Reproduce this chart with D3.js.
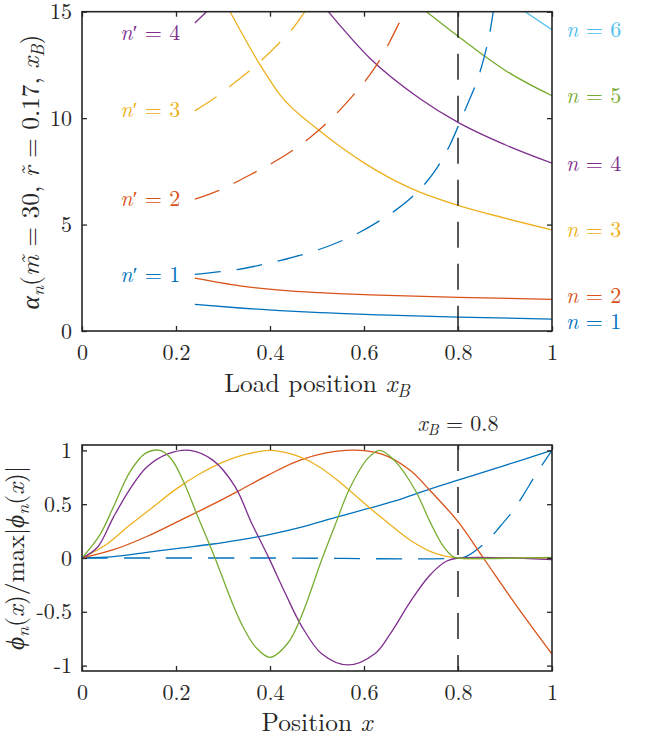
<!DOCTYPE html>
<html><head><meta charset="utf-8">
<script src="https://cdn.jsdelivr.net/npm/d3@7"></script>
<style>body{margin:0;background:#fff}</style>
</head><body>
<svg id="chart" width="651" height="738"></svg>
<script>
// ---------- data ----------
const xTicks = [0, 0.2, 0.4, 0.6, 0.8, 1];
const xTickLabels = ["0", "0.2", "0.4", "0.6", "0.8", "1"];
const alphaTicks = [0, 5, 10, 15];
const alphaTickLabels = ["0", "5", "10", "15"];
const phiTicks = [-1, -0.5, 0, 0.5, 1];
const phiTickLabels = ["-1", "-0.5", "0", "0.5", "1"];
const loadPosition = 0.8;

// top: alpha_n vs load position (solid, n = 1..6)
const alphaN1 = [[0.24,1.25],[0.336,1.08],[0.421,0.96],[0.506,0.86],[0.634,0.76],[0.8,0.65],[1,0.56]];
const alphaN2 = [[0.24,2.48],[0.336,2.12],[0.421,1.92],[0.506,1.8],[0.613,1.7],[0.8,1.58],[1,1.49]];
const alphaN3 = [[0.315,15],[0.379,12.5],[0.421,11.1],[0.503,9.45],[0.6,7.9],[0.7,6.7],[0.8,5.9],[0.9,5.3],[1,4.75]];
const alphaN4 = [[0.524,15],[0.613,12.8],[0.72,10.9],[0.8,9.8],[0.9,8.75],[1,7.88]];
const alphaN5 = [[0.733,15],[0.8,13.85],[0.854,12.95],[0.9,12.25],[1,11.05]];
const alphaN6 = [[0.943,15],[1,14.15]];
// top: dashed, n' = 1..4
const alphaP1 = [[0.24,2.66],[0.294,2.79],[0.333,2.9],[0.386,3.13],[0.421,3.31],[0.474,3.62],[0.506,3.84],[0.56,4.31],[0.591,4.64],[0.634,5.19],[0.668,5.69],[0.709,6.44],[0.733,7.0],[0.755,7.65],[0.783,8.75],[0.804,9.8],[0.822,10.75],[0.84,11.72],[0.857,12.98],[0.87,14.3],[0.875,15]];
const alphaP2 = [[0.24,6.19],[0.294,6.63],[0.357,7.33],[0.404,7.88],[0.453,8.56],[0.482,9.03],[0.52,9.75],[0.549,10.39],[0.584,11.25],[0.613,12.05],[0.638,12.9],[0.655,13.6],[0.68,14.7],[0.687,15]];
const alphaP3 = [[0.24,10.34],[0.286,11.0],[0.315,11.5],[0.357,12.24],[0.386,12.8],[0.425,13.65],[0.448,14.2],[0.474,15]];
const alphaP4 = [[0.24,14.47],[0.265,15]];

// bottom: normalised mode shapes at x_B = 0.8
const phiN1 = [[0,0],[0.067,0.012],[0.138,0.052],[0.209,0.092],[0.279,0.13],[0.336,0.169],[0.396,0.215],[0.467,0.286],[0.538,0.375],[0.609,0.46],[0.666,0.53],[0.726,0.62],[0.8,0.723],[0.868,0.817],[0.939,0.915],[1,1]];
const phiP1 = [[0,0],[0.4,0],[0.8,0],[0.818,0.015],[0.861,0.154],[0.889,0.29],[0.918,0.446],[0.939,0.585],[0.967,0.785],[1,1]];
const phiN2 = [[0,0],[0.067,0.077],[0.138,0.2],[0.209,0.35],[0.279,0.5],[0.336,0.63],[0.396,0.77],[0.467,0.915],[0.56,1],[0.638,0.965],[0.698,0.815],[0.74,0.63],[0.8,0.338],[0.854,0],[0.925,-0.447],[1,-0.893]];
const phiN3 = [[0,0],[0.05,0.12],[0.1,0.3],[0.15,0.47],[0.2,0.64],[0.25,0.78],[0.3,0.89],[0.35,0.965],[0.4,1],[0.45,0.96],[0.5,0.86],[0.55,0.7],[0.6,0.51],[0.65,0.33],[0.7,0.16],[0.75,0.045],[0.8,0],[0.9,0],[1,0]];
const phiN4 = [[0,0],[0.033,0.1],[0.067,0.38],[0.102,0.64],[0.138,0.846],[0.184,0.97],[0.23,1],[0.279,0.907],[0.326,0.661],[0.361,0.323],[0.396,0.015],[0.432,-0.323],[0.467,-0.63],[0.51,-0.89],[0.566,-0.994],[0.623,-0.89],[0.655,-0.71],[0.698,-0.41],[0.74,-0.16],[0.776,-0.028],[0.8,0],[1,-0.016]];
const phiN5 = [[0,0],[0.038,0.215],[0.067,0.476],[0.102,0.8],[0.134,0.97],[0.166,1],[0.19,0.92],[0.215,0.72],[0.245,0.4],[0.283,0],[0.32,-0.42],[0.345,-0.66],[0.37,-0.83],[0.4,-0.923],[0.439,-0.785],[0.467,-0.54],[0.51,-0.016],[0.538,0.3],[0.57,0.65],[0.609,0.93],[0.634,1],[0.666,0.9],[0.709,0.63],[0.74,0.34],[0.769,0.107],[0.79,0.01],[0.8,0],[1,0.005]];

// label texts and anchor values
const rightLabelNums = ["1","2","3","4","5","6"];
const rightLabelValues = [0.45, 1.66, 4.75, 7.88, 11.05, 14.15];
const leftLabelNums = ["1","2","3","4"];
const leftLabelValues = [2.66, 6.19, 10.39, 14.0];

const colors = ["#0072BD","#D95319","#EDB120","#7E2F8E","#77AC30","#4DBEEE"];

// ---------- drawing ----------
const FONT = '"Latin Modern Roman", "Liberation Serif", serif';
const svg = d3.select("#chart");
svg.append("rect").attr("width",651).attr("height",738).attr("fill","#fff");

const L = 82, R = 552;
const x = d3.scaleLinear().domain([0,1]).range([L,R]);
const yTop = d3.scaleLinear().domain([0,15]).range([331,11.7]);
const yBot = d3.scaleLinear().domain([-1.05,1.05]).range([671,445]);
const FS = 22, LFS = 25.5;
const DASH = "26,16";

function mathText(sel, parts, size, color){
  sel.style("font-family",FONT).style("font-size",size+"px").style("fill",color||"#262626");
  parts.forEach(p=>{
    const t = sel.append("tspan").text(p.t);
    if(p.i) t.style("font-style","italic");
    if(p.sub){ t.style("font-size",(size*0.7)+"px").attr("baseline-shift", -size*0.2); }
  });
  return sel;
}

function drawAxes(g, y, yt, ytl){
  const top = y.range()[1], bot = y.range()[0];
  g.append("g").attr("transform",`translate(0,${bot})`)
    .call(d3.axisBottom(x).tickValues(xTicks).tickFormat((d,i)=>xTickLabels[i]).tickSizeInner(-5).tickSizeOuter(0).tickPadding(13.5));
  g.append("g").attr("transform",`translate(0,${top})`)
    .call(d3.axisTop(x).tickValues(xTicks).tickFormat("").tickSizeInner(-5).tickSizeOuter(0));
  g.append("g").attr("transform",`translate(${L},0)`)
    .call(d3.axisLeft(y).tickValues(yt).tickFormat((d,i)=>ytl[i]).tickSizeInner(-5).tickSizeOuter(0).tickPadding(10));
  g.append("g").attr("transform",`translate(${R},0)`)
    .call(d3.axisRight(y).tickValues(yt).tickFormat("").tickSizeInner(-5).tickSizeOuter(0));
  g.selectAll(".domain").remove();
  g.selectAll(".tick line").attr("stroke","#262626").attr("stroke-width",1.3);
  g.selectAll(".tick text").style("font-family",FONT).style("font-size",FS+"px").style("fill","#262626");
  g.append("rect").attr("x",L).attr("y",top).attr("width",R-L).attr("height",bot-top)
    .attr("fill","none").attr("stroke","#262626").attr("stroke-width",1.6);
}

// ---- top panel ----
const gTop = svg.append("g");
svg.append("clipPath").attr("id","clipTop").append("rect").attr("x",L).attr("y",11.7).attr("width",R-L).attr("height",331-11.7);
const lineTop = d3.line().x(d=>x(d[0])).y(d=>yTop(d[1])).curve(d3.curveMonotoneX);
const gTopPlot = gTop.append("g").attr("clip-path","url(#clipTop)");

const solidTop = [alphaN1,alphaN2,alphaN3,alphaN4,alphaN5,alphaN6];
const dashedTop = [alphaP1,alphaP2,alphaP3,alphaP4];
gTopPlot.selectAll("path.solid").data(solidTop).join("path").attr("class","solid")
  .attr("d",lineTop).attr("fill","none").attr("stroke",(d,i)=>colors[i]).attr("stroke-width",1.3);
gTopPlot.selectAll("path.dashed").data(dashedTop).join("path").attr("class","dashed")
  .attr("d",lineTop).attr("fill","none").attr("stroke",(d,i)=>colors[i]).attr("stroke-width",1.3)
  .attr("stroke-dasharray",DASH);
gTopPlot.append("line").attr("x1",x(loadPosition)).attr("x2",x(loadPosition))
  .attr("y1",yTop(15)).attr("y2",yTop(0)).attr("stroke","#000").attr("stroke-width",1.3).attr("stroke-dasharray",DASH);
drawAxes(gTop, yTop, alphaTicks, alphaTickLabels);

// right labels n = k
rightLabelNums.forEach((k,i)=>{
  const t = gTop.append("text").attr("x",R+14).attr("y",yTop(rightLabelValues[i])).attr("dy","0.33em");
  mathText(t,[{t:"n",i:true},{t:" = "+k}],FS,colors[i]);
});
// left labels n' = k
leftLabelNums.forEach((k,i)=>{
  const t = gTop.append("text").attr("x",x(0.209)).attr("y",yTop(leftLabelValues[i])).attr("dy","0.33em")
    .attr("text-anchor","end");
  mathText(t,[{t:"n",i:true},{t:"\u2032 = "+k}],FS,colors[i]);
});

// y label top
{
  const t = gTop.append("text").attr("transform","translate(39,172) rotate(-90)").attr("text-anchor","middle");
  mathText(t,[{t:"\u03B1",i:true},{t:"n",i:true,sub:true},{t:"("},{t:"m\u0303",i:true},{t:" = 30, "},{t:"r\u0303",i:true},{t:" = 0.17, "},{t:"x",i:true},{t:"B",i:true,sub:true},{t:")"}],LFS);
}
// x label top
{
  const t = gTop.append("text").attr("x",(L+R)/2).attr("y",392).attr("text-anchor","middle");
  mathText(t,[{t:"Load position "},{t:"x",i:true},{t:"B",i:true,sub:true}],LFS);
}

// ---- bottom panel ----
const gBot = svg.append("g");
svg.append("clipPath").attr("id","clipBot").append("rect").attr("x",L).attr("y",445).attr("width",R-L).attr("height",226);
const lineBot = d3.line().x(d=>x(d[0])).y(d=>yBot(d[1])).curve(d3.curveCatmullRom.alpha(0.5));
const gBotPlot = gBot.append("g").attr("clip-path","url(#clipBot)");
const solidBot = [phiN1,phiN2,phiN3,phiN4,phiN5];
gBotPlot.append("path").datum(phiP1).attr("d",lineBot).attr("fill","none").attr("stroke",colors[0])
  .attr("stroke-width",1.3).attr("stroke-dasharray",DASH);
gBotPlot.selectAll("path.solid").data(solidBot).join("path").attr("class","solid")
  .attr("d",lineBot).attr("fill","none").attr("stroke",(d,i)=>colors[i]).attr("stroke-width",1.3);
gBotPlot.append("line").attr("x1",x(loadPosition)).attr("x2",x(loadPosition))
  .attr("y1",yBot(1.05)).attr("y2",yBot(-1.05)).attr("stroke","#000").attr("stroke-width",1.3).attr("stroke-dasharray",DASH);
drawAxes(gBot, yBot, phiTicks, phiTickLabels);

// title
{
  const t = gBot.append("text").attr("x",x(loadPosition)).attr("y",431).attr("text-anchor","middle");
  mathText(t,[{t:"x",i:true},{t:"B",i:true,sub:true},{t:" = 0.8"}],FS);
}
// y label bottom
{
  const t = gBot.append("text").attr("transform","translate(24,558) rotate(-90)").attr("text-anchor","middle");
  mathText(t,[{t:"\u03D5",i:true},{t:"n",i:true,sub:true},{t:"("},{t:"x",i:true},{t:")/max|"},{t:"\u03D5",i:true},{t:"n",i:true,sub:true},{t:"("},{t:"x",i:true},{t:")|"}],LFS);
}
// x label bottom
{
  const t = gBot.append("text").attr("x",(L+R)/2).attr("y",731).attr("text-anchor","middle");
  mathText(t,[{t:"Position "},{t:"x",i:true}],LFS);
}
</script>
</body></html>
